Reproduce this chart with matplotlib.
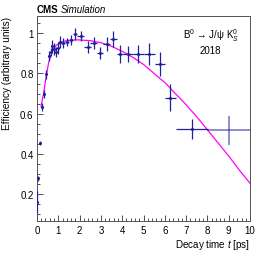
import numpy as np
import matplotlib.pyplot as plt
from matplotlib.ticker import MultipleLocator

plt.rcParams['font.family'] = ['Liberation Sans', 'DejaVu Sans']
plt.rcParams['mathtext.fontset'] = 'custom'
plt.rcParams['mathtext.rm'] = 'Liberation Sans'
plt.rcParams['mathtext.it'] = 'Liberation Sans:italic'

# efficiency points (bin centre, value, errors)
t = [0.02, 0.07, 0.16, 0.24, 0.34, 0.44, 0.55, 0.64, 0.72, 0.80, 0.88, 0.97,
     1.08, 1.23, 1.42, 1.60, 1.80, 2.05, 2.38, 2.66, 2.96, 3.27, 3.58, 3.90,
     4.28, 4.76, 5.28, 5.79, 6.26, 7.27]
eff = [0.16, 0.28, 0.455, 0.633, 0.698, 0.797, 0.885, 0.905, 0.938, 0.92, 0.905, 0.925,
       0.955, 0.952, 0.958, 0.965, 0.998, 0.985, 0.932, 0.952, 0.902, 0.948, 0.972, 0.895,
       0.897, 0.895, 0.897, 0.848, 0.68, 0.524]
t_err = [0.02, 0.03, 0.04, 0.04, 0.05, 0.05, 0.05, 0.04, 0.04, 0.04, 0.04, 0.05,
         0.07, 0.08, 0.1, 0.1, 0.1, 0.15, 0.17, 0.15, 0.15, 0.15, 0.17, 0.15,
         0.25, 0.25, 0.28, 0.23, 0.25, 0.75]
eff_err = [0.055, 0.012, 0.012, 0.02, 0.018, 0.022, 0.025, 0.02, 0.03, 0.03, 0.025, 0.03,
           0.03, 0.025, 0.02, 0.025, 0.03, 0.025, 0.03, 0.03, 0.03, 0.035, 0.04, 0.045,
           0.04, 0.045, 0.055, 0.06, 0.066, 0.048]

# last wide bin
t_last, eff_last, t_last_err, eff_last_err = 9.0, 0.517, 1.0, 0.072

# fitted curve
fit_t = [0.19, 0.25, 0.32, 0.38, 0.44, 0.55, 0.7, 0.9, 1.2, 1.5, 1.9, 2.5, 3.0, 3.5,
         4.0, 4.5, 5.0, 5.5, 6.0, 6.5, 7.0, 7.5, 8.0, 8.5, 9.0, 9.5, 10.0]
fit_eff = [0.636, 0.67, 0.705, 0.75, 0.79, 0.855, 0.905, 0.94, 0.958, 0.965, 0.967, 0.963,
           0.953, 0.935, 0.91, 0.88, 0.845, 0.80, 0.755, 0.70, 0.645, 0.585, 0.52,
           0.455, 0.39, 0.32, 0.255]

fig = plt.figure(figsize=(2.66, 2.55), dpi=100)
ax = fig.add_axes([0.139, 0.129, 0.801, 0.804])

ax.plot(fit_t, fit_eff, color='#ff00ff', lw=0.9, zorder=2)
ax.errorbar(t, eff, xerr=t_err, yerr=eff_err, fmt='none', ecolor='#20209a',
            elinewidth=0.9, capsize=0, zorder=3)
ax.plot(t, eff, 'o', ms=1.2, color='#20209a', zorder=3)
ax.errorbar([t_last], [eff_last], xerr=[t_last_err], yerr=[eff_last_err], fmt='none',
            ecolor='#20209a', alpha=0.55, elinewidth=1.3, capsize=0, zorder=3)

ax.set_xlim(0, 10)
ax.set_ylim(0.067, 1.085)
ax.xaxis.set_major_locator(MultipleLocator(1))
ax.xaxis.set_minor_locator(MultipleLocator(0.2))
ax.yaxis.set_major_locator(MultipleLocator(0.2))
ax.yaxis.set_minor_locator(MultipleLocator(0.05))
ax.set_yticks([0.2, 0.4, 0.6, 0.8, 1.0])
ax.set_yticklabels(['0.2', '0.4', '0.6', '0.8', '1'])
ax.tick_params(which='both', direction='in', labelsize=7, colors='#333333',
               labelcolor='black', width=0.6)
ax.tick_params(which='major', length=4, pad=2.5)
ax.tick_params(which='minor', length=2)
for s in ax.spines.values():
    s.set_color('#555555')
    s.set_linewidth(0.7)

ax.set_xlabel('Decay time $t$ [ps]', fontsize=7.1, loc='right', labelpad=2)
ax.set_ylabel('Efficiency (arbitrary units)', fontsize=7.2, loc='top', labelpad=6)

fig.text(0.139, 0.942, 'CMS', fontsize=7, fontweight='bold', va='bottom')
fig.text(0.229, 0.942, 'Simulation', fontsize=7, style='italic', va='bottom')
ax.text(0.815, 0.912, 'B$^0$ → J/ψ K$^0_S$', transform=ax.transAxes,
        fontsize=7, ha='center', va='center')
ax.text(0.815, 0.836, '2018', transform=ax.transAxes, fontsize=7, ha='center',
        va='center')

fig.savefig('out.png', dpi=100)
